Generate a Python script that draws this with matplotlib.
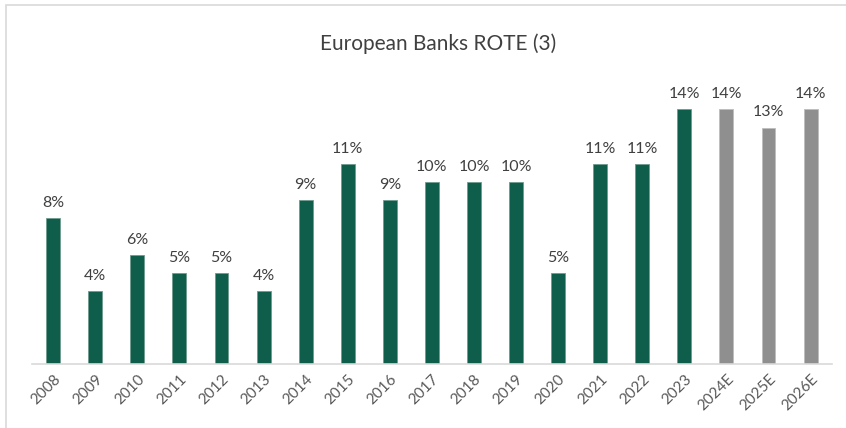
import matplotlib
matplotlib.use("Agg")
import matplotlib.pyplot as plt
from matplotlib.patches import Rectangle

years = ["2008", "2009", "2010", "2011", "2012", "2013", "2014", "2015", "2016",
         "2017", "2018", "2019", "2020", "2021", "2022", "2023", "2024E", "2025E", "2026E"]
rote = [8, 4, 6, 5, 5, 4, 9, 11, 9, 10, 10, 10, 5, 11, 11, 14, 14, 13, 14]
estimate = [False] * 16 + [True] * 3

green = "#0f5e4b"
grey = "#8f8f8f"

plt.rcParams["font.family"] = ["Lato", "DejaVu Sans"]

fig = plt.figure(figsize=(8.46, 4.28), dpi=100)
ax = fig.add_axes([0.038, 0.1495, 0.945, 0.68])

x = range(len(years))
colors = [grey if e else green for e in estimate]
edges = ["#bdbdbd" if e else "#6f9c8f" for e in estimate]
bars = ax.bar(x, rote, width=0.33, color=colors, edgecolor=edges, linewidth=0.6)

for xi, v in zip(x, rote):
    ax.text(xi, v + 0.45, f"{v}%", ha="center", va="bottom", fontsize=11.5, color="#404040")

ax.set_xlim(-0.5, len(years) - 0.5)
ax.set_ylim(0, 16)
ax.set_xticks(list(x))
ax.set_xticklabels(years, rotation=45, ha="right", rotation_mode="anchor",
                   fontsize=11, color="#595959")
ax.tick_params(axis="x", length=0, pad=6)
ax.set_yticks([])
for side in ["top", "right", "left"]:
    ax.spines[side].set_visible(False)
ax.spines["bottom"].set_color("#d9d9d9")
ax.spines["bottom"].set_linewidth(1.2)

fig.text(0.518, 0.897, "European Banks ROTE (3)", ha="center", va="center",
         fontsize=15, color="#404040")

# light frame around the chart area
fig.patches.append(Rectangle((6 / 846, -0.01), 1.0, 1 - 5 / 428 + 0.01,
                             transform=fig.transFigure, fill=False,
                             edgecolor="#d9d9d9", linewidth=1.2))

fig.savefig("out.png", dpi=100)
